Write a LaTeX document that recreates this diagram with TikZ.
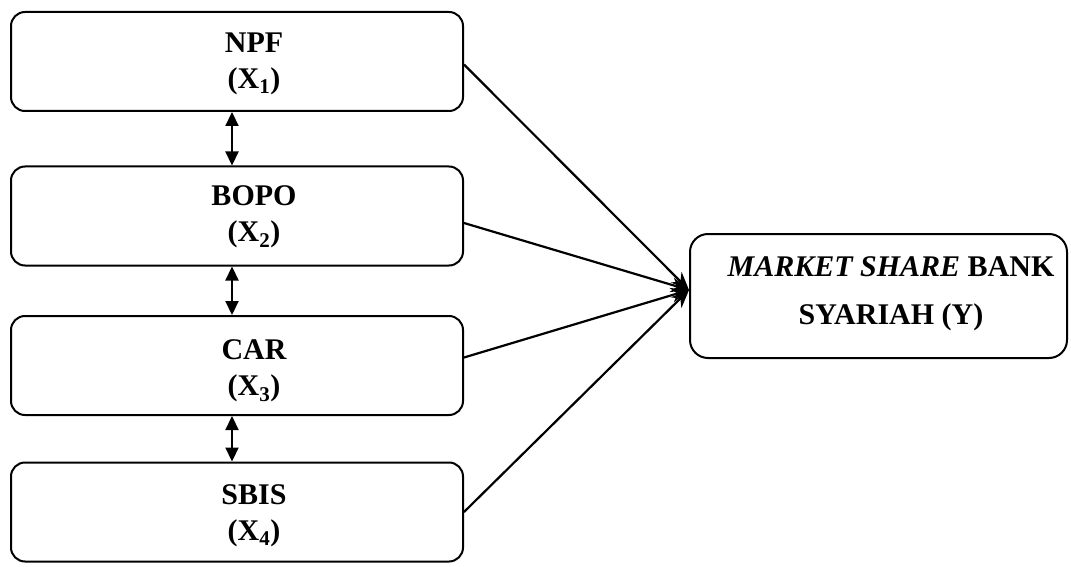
\documentclass[tikz,border=0pt]{standalone}
\usepackage{fontspec}
\setmainfont{Liberation Serif}
\usetikzlibrary{arrows.meta}
\begin{document}
\begin{tikzpicture}[x=1pt,y=-1pt,
  box/.style={draw,line width=2pt,rounded corners=14pt,minimum width=452pt,minimum height=99pt,inner sep=0pt},
  ybox/.style={draw,line width=2pt,rounded corners=18pt,minimum width=377pt,minimum height=124pt,inner sep=0pt},
  lbl/.style={align=center,font=\bfseries\fontsize{30}{36}\selectfont,inner sep=0pt},
  ylbl/.style={align=center,font=\bfseries\fontsize{30}{48}\selectfont,inner sep=0pt},
  conn/.style={line width=2.2pt,-{Stealth[length=18pt,width=15pt]}},
  dbl/.style={line width=2.2pt,{Triangle[length=14pt,width=13pt]}-{Triangle[length=14pt,width=13pt]}}]
\useasboundingbox (0,0) rectangle (1071,567);
\node[box] (b1) at (237,61.5) {};
\node[box] (b2) at (237,216) {};
\node[box] (b3) at (237,365.5) {};
\node[box] (b4) at (237,512) {};
\node[ybox] (y) at (878.5,296) {};
\node[lbl] (t1) at (254,64) {NPF\\(X\textsubscript{1})};
\node[lbl] (t2) at (254,217) {BOPO\\(X\textsubscript{2})};
\node[lbl] (t3) at (254,371) {CAR\\(X\textsubscript{3})};
\node[lbl] (t4) at (254,516) {SBIS\\(X\textsubscript{4})};
\node[ylbl] (ty) at (891,294) {\textit{MARKET SHARE} BANK\\SYARIAH (Y)};
\coordinate (tip) at (689,290);
\draw[conn] ([yshift=-3pt]b1.east) -- (tip);
\draw[conn] ([yshift=-7pt]b2.east) -- (tip);
\draw[conn] ([yshift=8pt]b3.east) -- (tip);
\draw[conn] (b4.east) -- (tip);
\draw[dbl] (b1.south -| 232,0) -- (b2.north -| 232,0);
\draw[dbl] (b2.south -| 232,0) -- (b3.north -| 232,0);
\draw[dbl] (b3.south -| 232,0) -- (b4.north -| 232,0);
\end{tikzpicture}
\end{document}
